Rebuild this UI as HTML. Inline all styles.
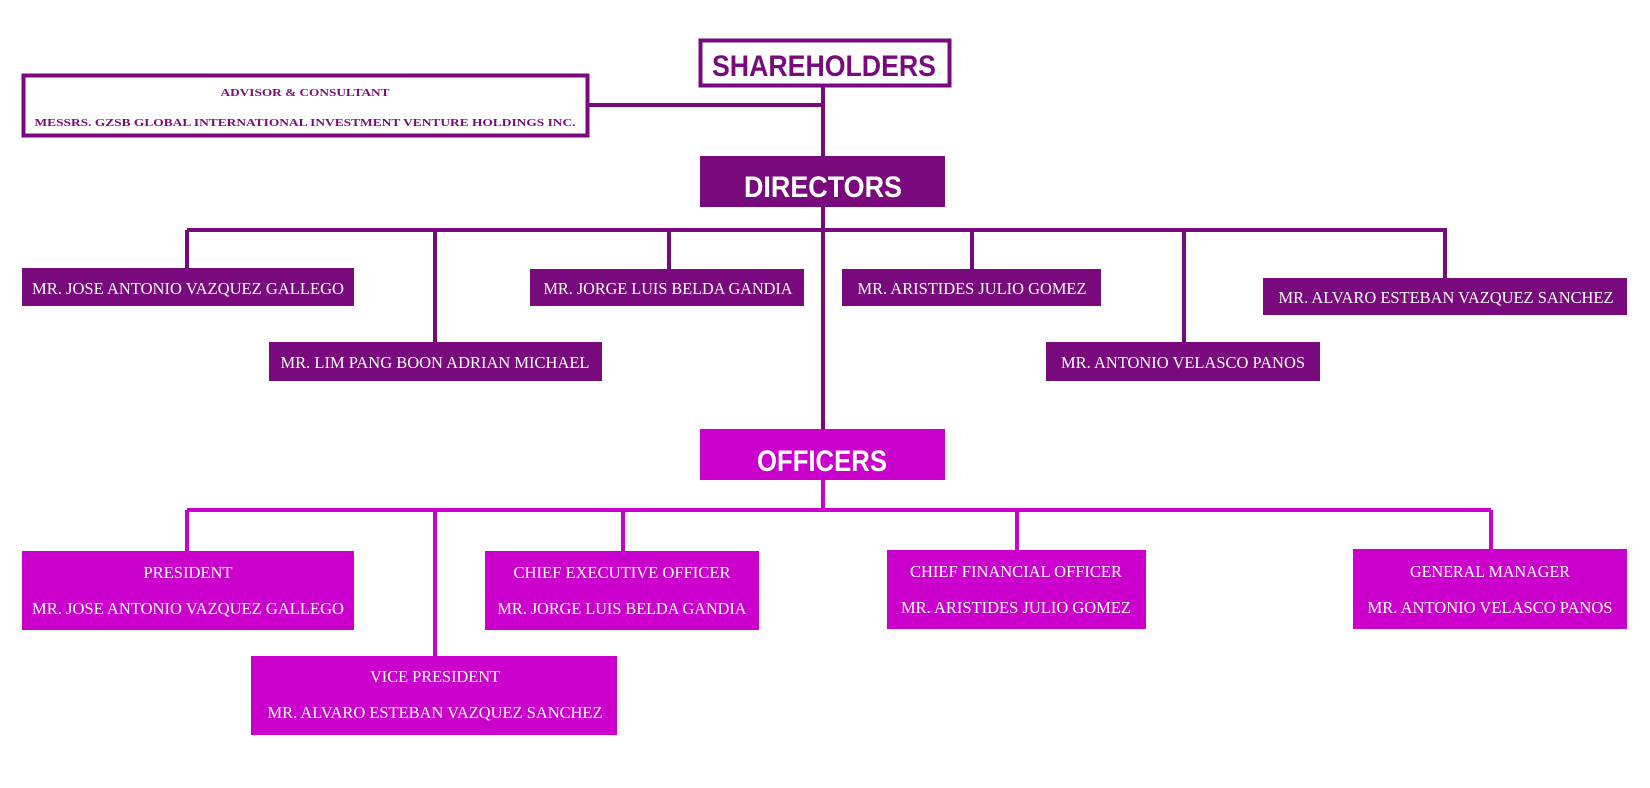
<!DOCTYPE html>
<html><head><meta charset="utf-8"><style>html,body{margin:0;padding:0;background:#fff;}svg{display:block}</style></head>
<body>
<svg width="1650" height="788" viewBox="0 0 1650 788" xmlns="http://www.w3.org/2000/svg">
<g fill="none" stroke="#790a7e" stroke-width="4">
<line x1="589" y1="105" x2="823" y2="105"/>
<line x1="823" y1="86" x2="823" y2="429"/>
<line x1="187" y1="230" x2="1447" y2="230"/>
<line x1="187" y1="230" x2="187" y2="268"/>
<line x1="435" y1="230" x2="435" y2="342"/>
<line x1="669" y1="230" x2="669" y2="269"/>
<line x1="972" y1="230" x2="972" y2="269"/>
<line x1="1184" y1="230" x2="1184" y2="342"/>
<line x1="1445" y1="230" x2="1445" y2="278"/>
</g>
<g fill="none" stroke="#cc00cc" stroke-width="4">
<line x1="823" y1="480" x2="823" y2="510"/>
<line x1="187" y1="510" x2="1491" y2="510"/>
<line x1="187" y1="510" x2="187" y2="551"/>
<line x1="435" y1="510" x2="435" y2="656"/>
<line x1="623" y1="510" x2="623" y2="551"/>
<line x1="1017" y1="510" x2="1017" y2="550"/>
<line x1="1491" y1="510" x2="1491" y2="549"/>
</g>
<rect x="700.5" y="40.5" width="249" height="45" fill="#fff" stroke="#790a7e" stroke-width="4"/>
<rect x="23.5" y="75.5" width="564" height="60" fill="#fff" stroke="#790a7e" stroke-width="4"/>
<g fill="#790a7e">
<rect x="700" y="156" width="245" height="51"/>
<rect x="22" y="268" width="332" height="38"/>
<rect x="269" y="342" width="333" height="39"/>
<rect x="530" y="269" width="274" height="37"/>
<rect x="842" y="269" width="259" height="37"/>
<rect x="1263" y="278" width="364" height="37"/>
<rect x="1046" y="342" width="274" height="39"/>
</g>
<g fill="#cc00cc">
<rect x="700" y="429" width="245" height="51"/>
<rect x="22" y="551" width="332" height="79"/>
<rect x="485" y="551" width="274" height="79"/>
<rect x="887" y="550" width="259" height="79"/>
<rect x="1353" y="549" width="274" height="80"/>
<rect x="251" y="656" width="366" height="79"/>
</g>
<g font-family="'Liberation Sans', sans-serif" font-weight="bold" font-size="30" text-anchor="middle">
<text x="824" y="76" fill="#790a7e" textLength="224" lengthAdjust="spacingAndGlyphs">SHAREHOLDERS</text>
<text x="823" y="197" fill="#fff" textLength="158" lengthAdjust="spacingAndGlyphs">DIRECTORS</text>
<text x="822" y="471" fill="#fff" textLength="130" lengthAdjust="spacingAndGlyphs">OFFICERS</text>
</g>
<g font-family="'Liberation Serif', serif" font-weight="bold" font-size="11" fill="#790a7e" text-anchor="middle">
<text x="305" y="96" textLength="169" lengthAdjust="spacingAndGlyphs">ADVISOR &amp; CONSULTANT</text>
<text x="305" y="126" textLength="541" lengthAdjust="spacingAndGlyphs">MESSRS. GZSB GLOBAL INTERNATIONAL INVESTMENT VENTURE HOLDINGS  INC.</text>
</g>
<g font-family="'Liberation Serif', serif" font-size="17" fill="#fff" text-anchor="middle">
<text x="188" y="294" textLength="312" lengthAdjust="spacingAndGlyphs">MR. JOSE ANTONIO VAZQUEZ GALLEGO</text>
<text x="435" y="368" textLength="309" lengthAdjust="spacingAndGlyphs">MR. LIM PANG  BOON ADRIAN MICHAEL</text>
<text x="668" y="294" textLength="249" lengthAdjust="spacingAndGlyphs">MR. JORGE LUIS BELDA GANDIA</text>
<text x="972" y="294" textLength="229" lengthAdjust="spacingAndGlyphs">MR. ARISTIDES JULIO GOMEZ</text>
<text x="1446" y="303" textLength="335" lengthAdjust="spacingAndGlyphs">MR. ALVARO ESTEBAN VAZQUEZ SANCHEZ</text>
<text x="1183" y="368" textLength="244" lengthAdjust="spacingAndGlyphs">MR. ANTONIO VELASCO PANOS</text>

<text x="188" y="578" textLength="89" lengthAdjust="spacingAndGlyphs">PRESIDENT</text>
<text x="188" y="614" textLength="312" lengthAdjust="spacingAndGlyphs">MR. JOSE ANTONIO VAZQUEZ GALLEGO</text>
<text x="622" y="578" textLength="217" lengthAdjust="spacingAndGlyphs">CHIEF EXECUTIVE OFFICER</text>
<text x="622" y="614" textLength="249" lengthAdjust="spacingAndGlyphs">MR. JORGE LUIS BELDA GANDIA</text>
<text x="1016" y="577" textLength="212" lengthAdjust="spacingAndGlyphs">CHIEF FINANCIAL OFFICER</text>
<text x="1016" y="613" textLength="230" lengthAdjust="spacingAndGlyphs">MR. ARISTIDES JULIO GOMEZ</text>
<text x="1490" y="577" textLength="160" lengthAdjust="spacingAndGlyphs">GENERAL MANAGER</text>
<text x="1490" y="613" textLength="245" lengthAdjust="spacingAndGlyphs">MR. ANTONIO VELASCO PANOS</text>
<text x="435" y="682" textLength="130" lengthAdjust="spacingAndGlyphs">VICE PRESIDENT</text>
<text x="435" y="718" textLength="335" lengthAdjust="spacingAndGlyphs">MR. ALVARO ESTEBAN VAZQUEZ SANCHEZ</text>
</g>
</svg>
</body></html>
